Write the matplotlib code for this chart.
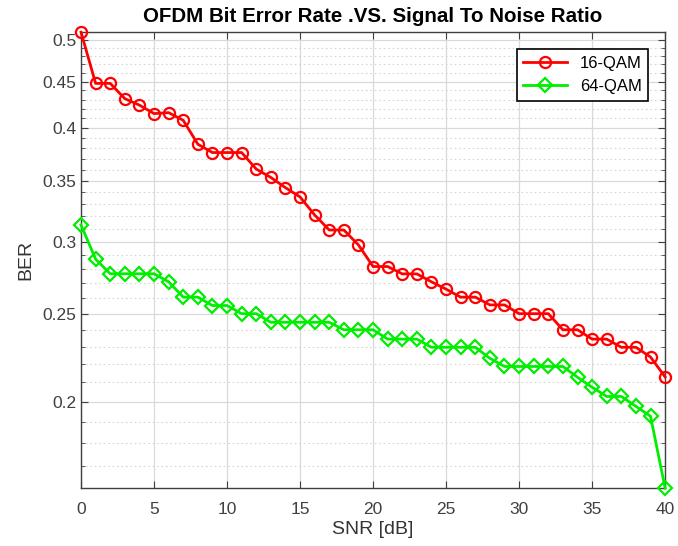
import matplotlib.pyplot as plt
import numpy as np
from matplotlib.ticker import FixedLocator, NullFormatter

# SNR values and BER readings
snr = list(range(0, 41))
ber_16qam = [0.51, 0.448, 0.448, 0.431, 0.424, 0.415, 0.416, 0.408, 0.384, 0.376,
             0.376, 0.376, 0.3606, 0.353, 0.344, 0.336, 0.321, 0.309, 0.309, 0.2975,
             0.2817, 0.2817, 0.2765, 0.2765, 0.271, 0.266, 0.2607, 0.2607, 0.2556, 0.2556,
             0.25, 0.25, 0.25, 0.24, 0.24, 0.2344, 0.2344, 0.2296, 0.2296, 0.224,
             0.213]
ber_64qam = [0.313, 0.287, 0.2766, 0.2766, 0.2766, 0.2766, 0.271, 0.2607, 0.2607, 0.2552,
             0.2552, 0.25, 0.25, 0.2446, 0.2446, 0.2446, 0.2446, 0.2446, 0.24, 0.24,
             0.24, 0.2344, 0.2344, 0.2344, 0.2296, 0.2296, 0.2296, 0.2296, 0.2233, 0.2187,
             0.2187, 0.2187, 0.2187, 0.2187, 0.2128, 0.2075, 0.2027, 0.2027, 0.1977, 0.1928,
             0.1607]
major_y = [0.2, 0.25, 0.3, 0.35, 0.4, 0.45, 0.5]
major_y_labels = ['0.2', '0.25', '0.3', '0.35', '0.4', '0.45', '0.5']
x_ticks = [0, 5, 10, 15, 20, 25, 30, 35, 40]

plt.rcParams['font.family'] = ['Liberation Sans', 'DejaVu Sans']

fig = plt.figure(figsize=(6.78, 5.46), dpi=100)
ax = fig.add_axes([0.1195, 0.106, 0.8615, 0.835])

ax.plot(snr, ber_16qam, '-o', color='#ff0000', lw=2, ms=8, mfc='none', mew=1.6,
        label='16-QAM', clip_on=False, zorder=3)
ax.plot(snr, ber_64qam, '-D', color='#00ee00', lw=2, ms=7, mfc='none', mew=1.6,
        label='64-QAM', clip_on=False, zorder=3)

ax.set_yscale('log')
ax.set_xlim(0, 40)
ax.set_ylim(min(ber_64qam), max(ber_16qam))

minor_y = [v / 100 for v in range(16, 52) if v % 5 != 0]
ax.yaxis.set_major_locator(FixedLocator(major_y))
ax.set_yticklabels(major_y_labels)
ax.yaxis.set_minor_locator(FixedLocator(minor_y))
ax.yaxis.set_minor_formatter(NullFormatter())
ax.set_xticks(x_ticks)

ax.grid(True, which='major', color='#d9d9d9', lw=0.9, ls='-')
ax.grid(True, which='minor', axis='y', color='#d6d6d6', lw=0.8, ls=(0, (1.5, 2.5)))
ax.set_axisbelow(True)

ax.tick_params(which='both', direction='in', top=True, right=True, colors='#404040',
               labelsize=12.5, labelcolor='#404040')
ax.tick_params(which='major', length=5)
ax.tick_params(which='minor', length=3)
ax.tick_params(axis='x', pad=10)
for s in ax.spines.values():
    s.set_color('#404040')
    s.set_linewidth(1)

ax.set_xlabel('SNR [dB]', fontsize=14, color='#333333', labelpad=3)
ax.set_ylabel('BER', fontsize=14, color='#333333', labelpad=6)
ax.set_title('OFDM Bit Error Rate .VS. Signal To Noise Ratio', fontsize=14.8,
             fontweight='bold', pad=7)

leg = ax.legend(loc='upper right', fontsize=12, fancybox=False, framealpha=1,
                edgecolor='black', handlelength=2.6, borderaxespad=1.0)
leg.get_frame().set_linewidth(1.2)

fig.savefig('out.png', dpi=100)
